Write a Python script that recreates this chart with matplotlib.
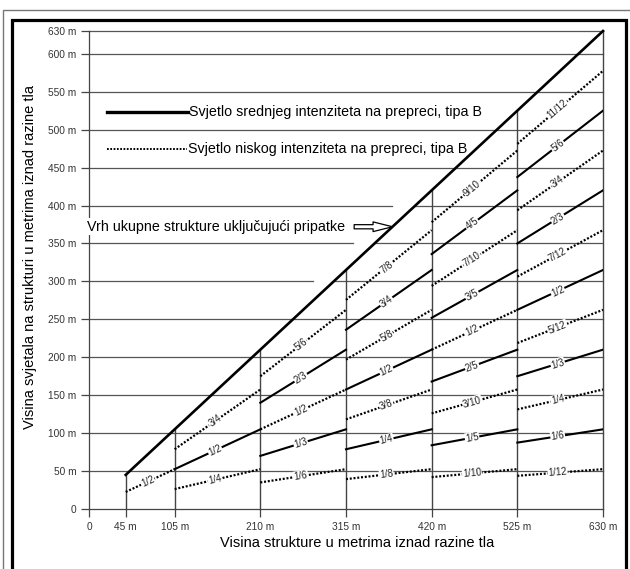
import numpy as np
import matplotlib
matplotlib.use('Agg')
import matplotlib.pyplot as plt
from matplotlib.patches import Rectangle
from fractions import Fraction

plt.rcParams['font.family'] = ['Liberation Sans', 'DejaVu Sans']

# structure heights (x breaks)
heights = [45, 105, 210, 315, 420, 525, 630]
x_ticks = [0, 45, 105, 210, 315, 420, 525, 630]
x_labels = ['0', '45 m', '105 m', '210 m', '315 m', '420 m', '525 m', '630 m']
y_ticks = [0, 50, 100, 150, 200, 250, 300, 350, 400, 450, 500, 550, 600, 630]
y_labels = ['0', '50 m', '100 m', '150 m', '200 m', '250 m', '300 m', '350 m',
            '400 m', '450 m', '500 m', '550 m', '600 m', '630 m']

# light levels per height band, as fraction of structure height
seg_45 = ['1/2']
seg_105 = ['1/4', '1/2', '3/4']
seg_210 = ['1/6', '1/3', '1/2', '2/3', '5/6']
seg_315 = ['1/8', '1/4', '3/8', '1/2', '5/8', '3/4', '7/8']
seg_420 = ['1/10', '1/5', '3/10', '2/5', '1/2', '3/5', '7/10', '4/5', '9/10']
seg_525 = ['1/12', '1/6', '1/4', '1/3', '5/12', '1/2', '7/12', '2/3', '3/4', '5/6', '11/12']
segments = [seg_45, seg_105, seg_210, seg_315, seg_420, seg_525]

# grid lines interrupted by the annotation text
cut_levels = [300, 350, 400]
cut_ends = [274, 323, 371]

legend_solid = 'Svjetlo srednjeg intenziteta na prepreci, tipa B'
legend_dotted = 'Svjetlo niskog intenziteta na prepreci, tipa B'
top_note = 'Vrh ukupne strukture uključujući pripatke'

dots = (0, (0.9, 0.8))

fig = plt.figure(figsize=(6.3, 5.69), dpi=100)
ax = fig.add_axes([89 / 630, 1 - 509 / 569, 514 / 630, 478 / 569])
ax.set_xlim(0, 630)
ax.set_ylim(0, 630)
for s in ['top', 'right']:
    ax.spines[s].set_visible(False)
for s in ['left', 'bottom']:
    ax.spines[s].set_color('#444')
    ax.spines[s].set_linewidth(0.9)

ax.set_xticks(x_ticks, x_labels)
ax.set_yticks(y_ticks, y_labels)
ax.tick_params(direction='out', length=6, width=0.9, color='#444',
               labelsize=7.3, labelcolor='#333', pad=3)

# horizontal grid
for y in y_ticks[1:]:
    if y in cut_levels:
        e = cut_ends[cut_levels.index(y)]
        ax.plot([0, e], [y, y], color='#555', lw=0.9, zorder=1)
        ax.plot([y, 630], [y, y], color='#555', lw=0.9, zorder=1)
    else:
        ax.plot([0, 630], [y, y], color='#555', lw=0.9, zorder=1, clip_on=False)

# vertical lines up to structure top
for h in heights:
    ax.plot([h, h], [0, h], color='#444', lw=1.0, zorder=1, clip_on=False)

# structure top
ax.plot([45, 630], [45, 630], color='k', lw=1.9, zorder=2, clip_on=False)

for i, labs in enumerate(segments):
    x0, x1 = heights[i], heights[i + 1]
    xm = (x0 + x1) / 2 - 3
    for j, lab in enumerate(labs):
        f = float(Fraction(lab))
        solid = j % 2 == 1
        ax.plot([x0, x1], [f * x0, f * x1], color='k',
                lw=1.5 if solid else 1.6, ls='-' if solid else dots, zorder=2)
        ax.text(xm, f * xm, lab, rotation=np.degrees(np.arctan(f)),
                transform_rotates_text=True, rotation_mode='anchor',
                ha='center', va='center', fontsize=7, color='#222', zorder=3,
                bbox=dict(fc='white', ec='none', pad=0.4))

# legend inside the plot
ax.plot([22, 121], [523, 523], color='k', lw=2.4, zorder=2)
ax.text(123, 523, legend_solid, va='center', ha='left', fontsize=10.3, zorder=3)
ax.plot([22, 120], [475, 475], color='k', lw=1.4, ls=dots, zorder=2)
ax.text(121, 475, legend_dotted, va='center', ha='left', fontsize=10.3, zorder=3)

ax.text(-2.5, 372, top_note, va='center', ha='left', fontsize=10.3, zorder=4,
        bbox=dict(fc='white', ec='none', pad=1))
ax.annotate('', xy=(372, 372), xytext=(325, 372),
            arrowprops=dict(arrowstyle='simple,head_length=1.4,head_width=0.7,tail_width=0.3',
                            fc='white', ec='k', lw=0.9, shrinkA=0, shrinkB=0,
                            mutation_scale=10), zorder=4)

fig.text(357 / 630, 1 - 543 / 569, 'Visina strukture u metrima iznad razine tla',
         ha='center', va='center', fontsize=10.5)
fig.text(30 / 630, 1 - 257 / 569, 'Visina svjetala na strukturi u metrima iznad razine tla',
         ha='center', va='center', rotation=90, fontsize=10.5)

# frames
fig.add_artist(Rectangle((3 / 630, -0.1), 1.2, 1 - 10 / 569 + 0.1,
                         transform=fig.transFigure, fill=False, ec='#777', lw=1))
fig.add_artist(Rectangle((12 / 630, -0.1), (626 - 12) / 630, 1 - 20 / 569 + 0.1,
                         transform=fig.transFigure, fill=False, ec='k', lw=2.3))

fig.savefig('out.png', dpi=100)
